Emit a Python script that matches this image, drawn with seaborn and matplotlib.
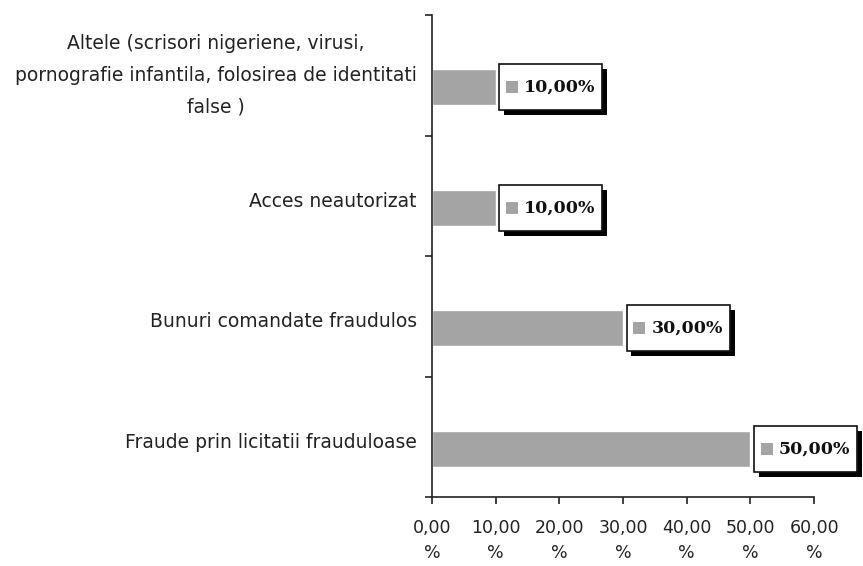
import numpy as np
import matplotlib
matplotlib.use("Agg")
import matplotlib.pyplot as plt
import matplotlib.patheffects as pe
from matplotlib.patches import Rectangle
from matplotlib.offsetbox import AnnotationBbox, DrawingArea, HPacker, TextArea
import seaborn as sns

categories = [
    "Altele (scrisori nigeriene, virusi,\npornografie infantila, folosirea de identitati\nfalse )",
    "Acces neautorizat",
    "Bunuri comandate fraudulos",
    "Fraude prin licitatii frauduloase",
]
values = [10.0, 10.0, 30.0, 50.0]
x_ticks = [0, 10, 20, 30, 40, 50, 60]
x_tick_labels = [("%.2f\n%%" % t).replace(".", ",") for t in x_ticks]

BAR_COLOR = "#a4a4a4"
TEXT_COLOR = "#222222"
FONT_SIZE = 12.5

sns.set_style("white")
plt.rcParams["font.family"] = ["DejaVu Sans"]

fig = plt.figure(figsize=(8.63, 5.66), dpi=100)
ax = fig.add_axes([0.5006, 0.1219, 0.4427, 0.8516])

sns.barplot(x=values, y=categories, orient="h", color=BAR_COLOR,
            width=0.3, saturation=1, ax=ax)

n = len(categories)
ax.set_ylim(n - 0.6, -0.6)
ax.set_xlim(0, 60)

# category labels sit a bit above the bar centres, tick marks sit between bands
label_pos = np.arange(n) - 0.07
label_pos[0] -= 0.1  # the three-line label sits higher
ax.set_yticks(label_pos, labels=categories)
ax.set_yticks(np.arange(n + 1) - 0.6, minor=True)
ax.tick_params(axis="y", which="major", length=0, pad=11,
               labelsize=13.5, labelcolor=TEXT_COLOR)
ax.tick_params(axis="y", which="minor", left=True, length=5, width=1.2,
               color="#222222", direction="out")
for t in ax.get_yticklabels():
    t.set_multialignment("center")
    t.set_linespacing(1.85)

ax.set_xticks(x_ticks, labels=x_tick_labels)
ax.tick_params(axis="x", bottom=True, length=5, width=1.2, color="#222222",
               direction="out", pad=11, labelsize=FONT_SIZE, labelcolor=TEXT_COLOR)
for t in ax.get_xticklabels():
    t.set_linespacing(1.45)

ax.set_xlabel("")
ax.set_ylabel("")
for side in ["top", "right"]:
    ax.spines[side].set_visible(False)
for side in ["left", "bottom"]:
    ax.spines[side].set_color("#222222")
    ax.spines[side].set_linewidth(1.2)

# value boxes with a small grey legend key and a drop shadow
for i, v in enumerate(values):
    key = DrawingArea(9, 23, 0, 0)
    key.add_artist(Rectangle((0, 7.25), 8.5, 8.5, facecolor=BAR_COLOR, edgecolor="none"))
    txt = TextArea(("%.2f%%" % v).replace(".", ","),
                   textprops=dict(family="DejaVu Serif", weight="bold",
                                  size=FONT_SIZE, color="#111111"))
    box = HPacker(children=[key, txt], align="center", pad=5, sep=4)
    ab = AnnotationBbox(box, (v, i), xybox=(2.5, 0), xycoords="data",
                        boxcoords="offset points", box_alignment=(0, 0.5),
                        frameon=True, pad=0,
                        bboxprops=dict(boxstyle="square,pad=0", facecolor="white",
                                       edgecolor="#111111", linewidth=1.2))
    ab.patch.set_path_effects([
        pe.SimplePatchShadow(offset=(3.5, -3.5), shadow_rgbFace="black", alpha=1),
        pe.Normal(),
    ])
    ax.add_artist(ab)

plt.savefig("out.png", dpi=100)
plt.close()
